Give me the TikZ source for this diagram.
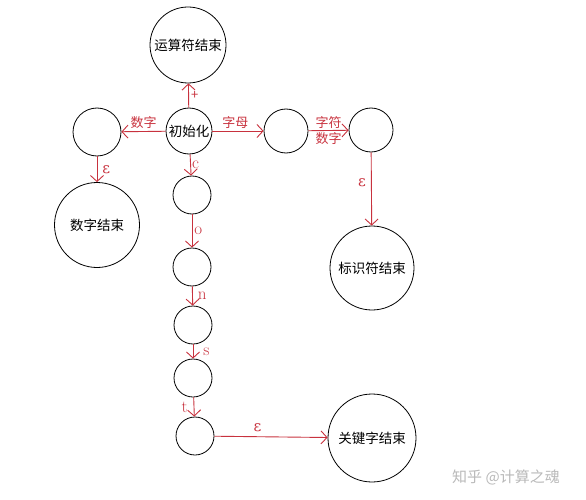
\documentclass[tikz,border=0pt]{standalone}
\usepackage{fontspec}
\newfontfamily\cjk{Noto Sans CJK SC}
\newfontfamily\grk{DejaVu Serif}
\usetikzlibrary{arrows.meta}
\definecolor{fsared}{RGB}{200,50,62}
\tikzstyle{state} = [circle, draw, line width=0.8pt, inner sep=0pt, font=\cjk\fontsize{13.5}{15}\selectfont]
\tikzstyle{lbl} = [text=fsared, inner sep=2pt, font=\cjk\fontsize{13}{15}\selectfont]
\tikzstyle{ltr} = [text=fsared, inner sep=2pt, font=\fontsize{17}{19}\selectfont]
\tikzstyle{eps} = [text=fsared, inner sep=2pt, font=\grk\fontsize{15}{17}\selectfont]
\tikzset{edge/.style = {
    draw=fsared, line width=0.9pt,
    -{Straight Barb[length=6pt,width=13pt]},
  }
}

\begin{document}
\begin{tikzpicture}[x=1pt,y=-1pt]
            \useasboundingbox (0,0) rectangle (586,500);
            % vertices
            \node[state, minimum size=76pt] (opEnd) at (188,45) {运算符结束};
            \node[state, minimum size=46pt] (init) at (189,131) {初始化};
            \node[state, minimum size=48pt] (numA) at (97,132) {};
            \node[state, minimum size=85pt] (numEnd) at (97,225) {数字结束};
            \node[state, minimum size=44pt] (idA) at (286,131) {};
            \node[state, minimum size=44pt] (idB) at (371,130) {};
            \node[state, minimum size=84pt] (idEnd) at (372,268) {标识符结束};
            \node[state, minimum size=38pt] (kwC) at (192,195) {};
            \node[state, minimum size=38pt] (kwO) at (192,267) {};
            \node[state, minimum size=38pt] (kwN) at (193,325) {};
            \node[state, minimum size=38pt] (kwS) at (193,378) {};
            \node[state, minimum size=38pt] (kwT) at (195,436) {};
            \node[state, minimum size=88pt] (kwEnd) at (372,438) {关键字结束};

            %edges
            \draw[edge] (init) -- node[lbl, right] {+} (opEnd);
            \draw[edge] (init) -- node[lbl, above] {数字} (numA);
            \draw[edge] (init) -- node[lbl, above, pos=0.45] {字母} (idA);
            \draw[edge] (idA) -- node[lbl, above] {字符} node[lbl, below] {数字} (idB);
            \draw[edge] (numA) -- node[eps, right, xshift=3pt] {ε} (numEnd);
            \draw[edge] (idB) -- node[eps, left, pos=0.42, xshift=-3pt] {ε} (idEnd);
            \draw[edge] (kwT) -- node[eps, above, pos=0.38, yshift=2pt] {ε} (kwEnd);

            %keyword chain
            \draw[edge] (init) -- node[ltr, right, inner sep=1pt] {c} (kwC);
            \draw[edge] (kwC) -- node[ltr, right] {o} (kwO);
            \draw[edge] (kwO) -- node[ltr, right, xshift=3pt] {n} (kwN);
            \draw[edge] (kwN) -- node[ltr, right, xshift=8pt] {s} (kwS);
            \draw[edge] (kwS) -- node[ltr, left, xshift=-4pt] {t} (kwT);

            \node[text=gray!55, font=\cjk\fontsize{15}{17}\selectfont] (mark) at (506,477) {知乎 @计算之魂};
\end{tikzpicture}
\end{document}
